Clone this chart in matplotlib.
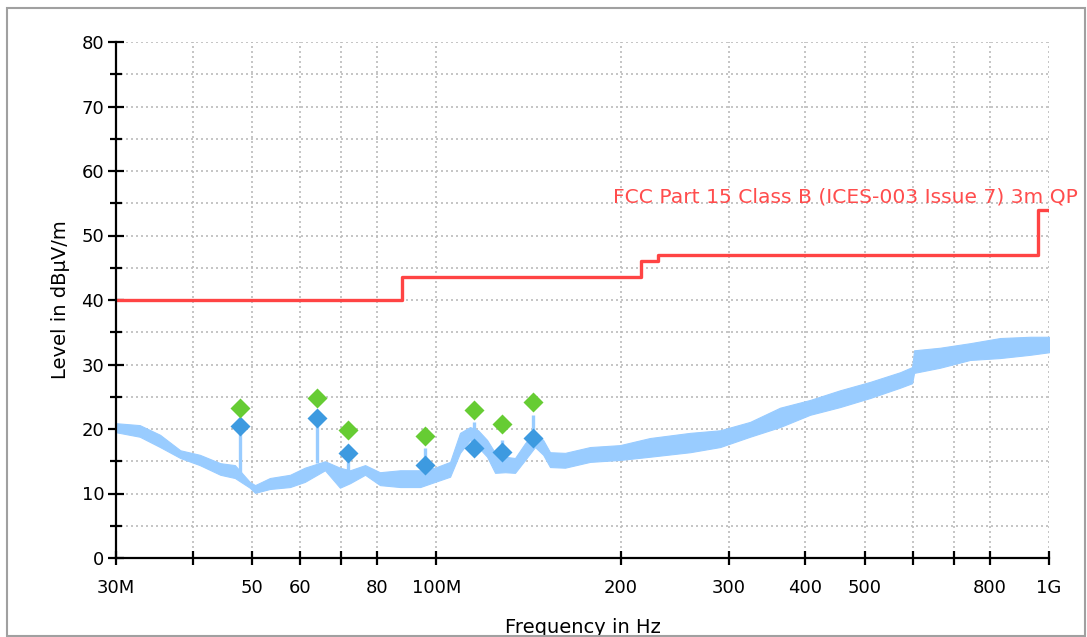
import matplotlib
matplotlib.use('Agg')
import matplotlib.pyplot as plt
from matplotlib.patches import Rectangle
from matplotlib.ticker import FixedLocator, FixedFormatter, NullFormatter, MultipleLocator

# noise floor trace (MHz, lower / upper edge of the band in dBuV/m)
trace_freq = [30, 32.8, 35.4, 38.2, 41.1, 44.4, 46.9, 49.6, 50.6, 53.5, 57.7, 61.0,
              65.8, 69.6, 72.3, 76.5, 80.9, 87.3, 94.1, 99.5, 105.3, 109.3, 113.5,
              117.0, 121.0, 124.7, 129.5, 134.4, 139.6, 144.9, 149.4, 153.3, 162.2,
              178.2, 199.4, 223.2, 259.5, 290.5, 325.1, 363.9, 407.3, 455.9, 510.3,
              571.4, 597.8, 602.3, 664, 743, 832, 931, 1000]
trace_low = [19.5, 18.8, 17.2, 15.5, 14.4, 12.9, 12.4, 10.9, 10.1, 10.7, 11.0, 11.8,
             13.6, 10.9, 11.6, 12.9, 11.3, 11.0, 11.0, 11.8, 12.6, 16.3, 18.3,
             17.2, 15.7, 13.2, 13.3, 13.2, 15.2, 17.2, 16.0, 14.1, 14.0,
             14.9, 15.2, 15.7, 16.4, 17.2, 18.8, 20.3, 22.2, 23.4, 24.8,
             26.4, 27.1, 28.7, 29.5, 30.7, 31.0, 31.5, 31.9]
trace_high = [20.9, 20.6, 19.1, 16.7, 16.0, 14.7, 14.4, 11.8, 11.3, 12.4, 12.9, 14.0,
              15.0, 14.0, 13.6, 14.4, 13.3, 13.6, 13.6, 14.0, 14.9, 19.4, 20.3,
              19.8, 18.3, 16.3, 15.7, 15.5, 17.8, 19.5, 18.3, 16.4, 16.3,
              17.2, 17.5, 18.6, 19.4, 19.8, 21.1, 23.3, 24.5, 26.0, 27.3,
              28.8, 29.6, 32.2, 32.6, 33.3, 34.1, 34.3, 34.3]

# narrow spikes in the trace
spike_freq = [47.8, 63.9, 71.7, 95.8, 115.2, 128.0, 143.8]
spike_bottom = [12.9, 14.7, 13.0, 14.0, 19.0, 15.5, 18.0]
spike_top = [19.4, 20.5, 15.5, 17.0, 21.1, 18.3, 22.2]

# final measurement points
peak_freq = [47.8, 63.9, 71.7, 95.8, 115.2, 128.0, 143.8]
peak_green = [23.3, 24.8, 19.8, 18.9, 22.9, 20.8, 24.2]
peak_blue = [20.5, 21.7, 16.3, 14.4, 17.1, 16.4, 18.6]

# limit line (steps-post)
limit_edges = [30, 88, 216, 230, 960, 1000]
limit_levels = [40, 43.5, 46, 47, 54, 54]
limit_name = "FCC Part 15 Class B (ICES-003 Issue 7) 3m QP"

major_x = [30, 50, 60, 80, 100, 200, 300, 400, 500, 800, 1000]
major_x_labels = ["30M", "50", "60", "80", "100M", "200", "300", "400", "500", "800", "1G"]
minor_x = [40, 70, 600, 700]

W, H = 1087, 637
fig = plt.figure(figsize=(W / 100, H / 100), dpi=100)
fig.patches.append(Rectangle((7 / W, 1 / H), (1085 - 7) / W, (636 - 8) / H,
                             transform=fig.transFigure, fill=False,
                             edgecolor='#a0a0a0', lw=1.5))

ax = fig.add_axes([116 / W, 1 - 558 / H, (1049 - 116) / W, (558 - 42) / H])
ax.set_xscale('log')

ax.fill_between(trace_freq, trace_low, trace_high, color='#99ccff', lw=0.8,
                edgecolor='#99ccff', zorder=3)
ax.vlines(spike_freq, spike_bottom, spike_top, color='#99ccff', lw=2.4, zorder=3)

ax.plot(limit_edges, limit_levels, drawstyle='steps-post', color='#ff4444',
        lw=2.4, zorder=4)
ax.text(194, 56, limit_name, color='#ff4d4d', fontsize=14.6, va='center',
        ha='left', clip_on=False, zorder=5)

ax.plot(peak_freq, peak_blue, 'D', color='#3d9ae0', markersize=10.5, mec='none', zorder=6)
ax.plot(peak_freq, peak_green, 'D', color='#66cc33', markersize=10.5, mec='none', zorder=6)

ax.set_xlim(30, 1000)
ax.set_ylim(0, 80)

ax.xaxis.set_major_locator(FixedLocator(major_x))
ax.xaxis.set_major_formatter(FixedFormatter(major_x_labels))
ax.xaxis.set_minor_locator(FixedLocator(minor_x))
ax.xaxis.set_minor_formatter(NullFormatter())
ax.yaxis.set_major_locator(MultipleLocator(10))
ax.yaxis.set_minor_locator(MultipleLocator(5))

ax.grid(True, which='both', color='#bbbbbb', ls=(0, (1.2, 1.8)), lw=1.2, zorder=0)
ax.set_axisbelow(True)

for side in ['top', 'right']:
    ax.spines[side].set_visible(False)
for side in ['left', 'bottom']:
    ax.spines[side].set_linewidth(1.6)
    ax.spines[side].set_zorder(7)

ax.tick_params(axis='x', which='both', direction='inout', length=10, width=1.6,
               labelsize=13, pad=10)
ax.tick_params(axis='y', which='major', direction='inout', length=11, width=1.6,
               labelsize=13, pad=3)
ax.tick_params(axis='y', which='minor', direction='inout', length=9, width=1.6)

ax.set_xlabel("Frequency in Hz", fontsize=14, labelpad=15)
ax.set_ylabel("Level in dBµV/m", fontsize=14, labelpad=8)

fig.savefig("out.png", dpi=100)
